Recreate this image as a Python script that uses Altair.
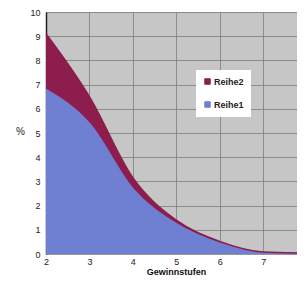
import altair as alt
import pandas as pd

stufen = [2, 3, 4, 5, 6, 7, 8]
reihe1 = [6.8, 5.4, 2.7, 1.25, 0.45, 0.05, 0.02]
reihe2 = [2.3, 1.1, 0.45, 0.15, 0.07, 0.03, 0.01]
series = ["Reihe2", "Reihe1"]
colors = ["#8c1d4c", "#6f7fd2"]

rows = []
for x, a, b in zip(stufen, reihe1, reihe2):
    rows.append({"x": x, "serie": "Reihe1", "val": a, "ord": 0})
    rows.append({"x": x, "serie": "Reihe2", "val": b, "ord": 1})
df = pd.DataFrame(rows)

font = "Liberation Sans"

chart = alt.Chart(df).mark_area(
    interpolate="monotone",
    line={"color": "#111111", "strokeWidth": 1.5},
    opacity=1,
).encode(
    x=alt.X("x:Q",
            scale=alt.Scale(domain=[2, 7.78], nice=False, zero=False),
            axis=alt.Axis(values=[2, 3, 4, 5, 6, 7], title="Gewinnstufen",
                          titleFont=font, titleFontSize=9, titleFontWeight="bold",
                          titleColor="#111", titlePadding=1, titleX=130,
                          labelFont=font, labelFontSize=9, labelColor="#222",
                          labelPadding=3, ticks=False, domain=False,
                          grid=True, gridColor="#7e7e7e", gridWidth=0.8,
                          labelFlush=False)),
    y=alt.Y("val:Q", stack="zero",
            scale=alt.Scale(domain=[0, 10], nice=False),
            axis=alt.Axis(values=list(range(0, 11)), title="%", titleAngle=0,
                          titleFont=font, titleFontSize=10, titleFontWeight="normal",
                          titleColor="#222", titleX=-26, titleY=119,
                          titleBaseline="middle", titleAlign="center",
                          labelFont=font, labelFontSize=9, labelColor="#222",
                          labelPadding=6, ticks=False, domain=True,
                          domainColor="#222", domainWidth=1.5,
                          grid=True, gridColor="#7e7e7e", gridWidth=0.8)),
    color=alt.Color("serie:N",
                    scale=alt.Scale(domain=series, range=colors),
                    legend=alt.Legend(orient="none", legendX=150, legendY=58,
                                      title=None, fillColor="#ffffff",
                                      padding=7, symbolType="square",
                                      symbolSize=30, symbolStrokeColor="#111",
                                      symbolStrokeWidth=1, rowPadding=12,
                                      labelFont=font, labelFontSize=9,
                                      labelFontWeight="bold", labelColor="#222",
                                      labelOffset=2)),
    order=alt.Order("ord:Q", sort="ascending"),
).properties(
    width=251,
    height=242,
    autosize=alt.AutoSizeParams(type="none"),
    padding={"left": 38, "top": 4, "right": 0, "bottom": 22},
).configure_view(
    fill="#c6c6c6", stroke=None
)

chart.save("out.html", embed_options={"renderer": "svg", "actions": False})
